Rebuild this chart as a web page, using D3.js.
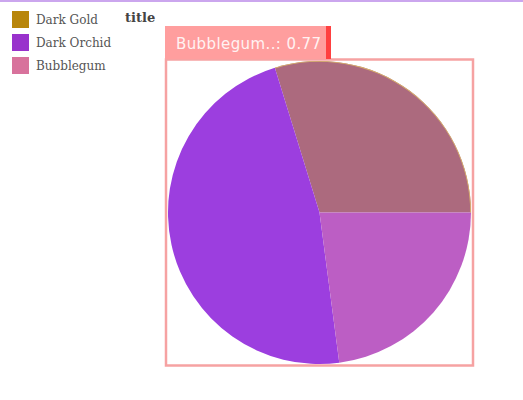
<!DOCTYPE html>
<html><head><meta charset="utf-8">
<script src="https://cdn.jsdelivr.net/npm/d3@7"></script>
<style>body{margin:0;background:#fff;}svg{display:block;}</style>
</head><body>
<script>
const categories = ["Dark Gold", "Dark Orchid", "Bubblegum"];
const values = [1.00, 1.59, 0.77];
const legendColors = ["#B8860B", "#9932CC", "#D8729C"];
const sliceColors = ["#AC6A7E", "#9C3EDF", "#BC5EC4"];
const tooltipLabel = "Bubblegum..: 0.77";
const titleText = "title";

const W = 523, H = 400;
const svg = d3.select("body").append("svg").attr("width", W).attr("height", H);

// top border
svg.append("rect").attr("x", 0).attr("y", 0).attr("width", W).attr("height", 2).attr("fill", "#CBA6EE");

const data = categories.map((c, i) => ({name: c, value: values[i], color: sliceColors[i]}));
const cx = 319.5, cy = 212.5, r = 151.5;
const pie = d3.pie().value(d => d.value).sort((a, b) => b.value - a.value)
  .startAngle(172.5 * Math.PI / 180).endAngle(172.5 * Math.PI / 180 + 2 * Math.PI);
const arc = d3.arc().innerRadius(0).outerRadius(r);
const g = svg.append("g").attr("transform", `translate(${cx},${cy})`);
g.selectAll("path").data(pie(data)).join("path")
  .attr("d", arc).attr("fill", d => d.data.color);
// thin gold rim on gold slice
g.selectAll("path.rim").data(pie(data).filter(d => d.data.name === "Dark Gold")).join("path")
  .attr("class", "rim")
  .attr("d", d3.arc().innerRadius(r - 0.8).outerRadius(r)).attr("fill", "#D9B36A");

// highlight rectangle
svg.append("rect").attr("x", 166).attr("y", 59.5).attr("width", 307).attr("height", 306)
  .attr("fill", "none").attr("stroke", "#F6A2A2").attr("stroke-width", 2.5);

// tooltip
svg.append("rect").attr("x", 165).attr("y", 26).attr("width", 161).attr("height", 33).attr("fill", "#FF9E9E");
svg.append("rect").attr("x", 326).attr("y", 26).attr("width", 5).attr("height", 33).attr("fill", "#FF4040");
svg.append("text").attr("x", 176).attr("y", 49).text(tooltipLabel)
  .attr("font-family", "DejaVu Sans").attr("font-size", 15).attr("letter-spacing", 0.4)
  .attr("fill", "#FFF2F2");

// legend
const lg = svg.append("g");
categories.forEach((c, i) => {
  lg.append("rect").attr("x", 12).attr("y", 11 + i * 23).attr("width", 17).attr("height", 17).attr("fill", legendColors[i]);
  lg.append("text").attr("x", 36).attr("y", 24 + i * 23).text(c)
    .attr("font-family", "DejaVu Serif").attr("font-size", 12).attr("fill", "#555");
});
svg.append("text").attr("x", 125).attr("y", 22).text(titleText)
  .attr("font-family", "DejaVu Serif").attr("font-weight", "bold").attr("font-size", 13).attr("fill", "#444");
</script>
</body></html>
